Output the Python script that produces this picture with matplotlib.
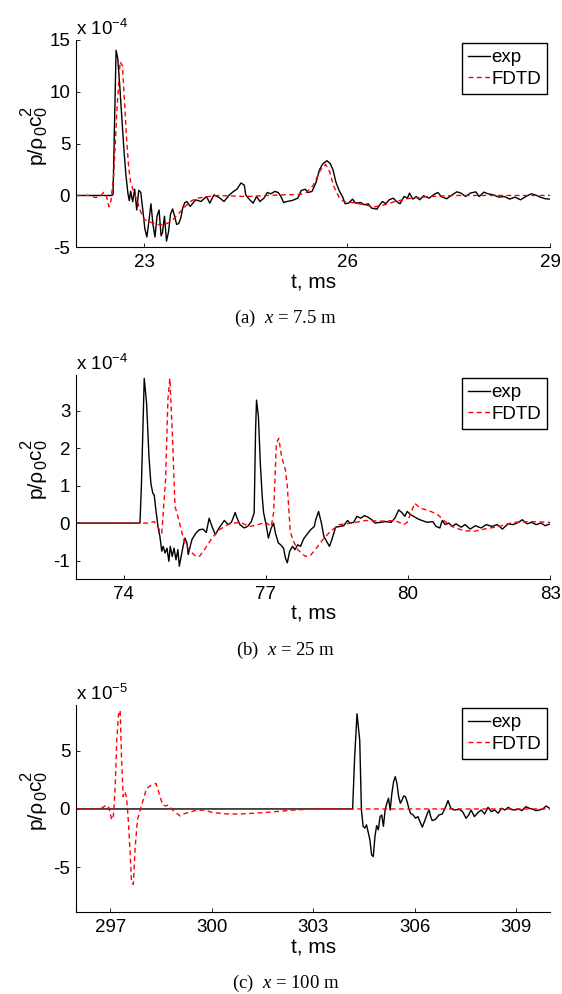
import matplotlib
matplotlib.use("Agg")
import matplotlib.pyplot as plt
from matplotlib.transforms import IdentityTransform

plt.rcParams['font.family'] = ['Liberation Sans', 'DejaVu Sans']
plt.rcParams['mathtext.fontset'] = 'custom'
plt.rcParams['mathtext.rm'] = 'Liberation Serif'
plt.rcParams['mathtext.it'] = 'Liberation Serif:italic'
plt.rcParams['axes.unicode_minus'] = False

# ---------------- data (a) x = 7.5 m, units 1e-4 ----------------
a_exp_t = [22.00, 22.52, 22.54, 22.565, 22.585, 22.61, 22.64, 22.67, 22.70, 22.73, 22.76, 22.78, 22.80, 22.83,
           22.86, 22.89, 22.92, 22.95, 22.98, 23.01, 23.04, 23.07, 23.10, 23.13, 23.16, 23.19, 23.22, 23.25,
           23.27, 23.30, 23.33, 23.36, 23.39, 23.42, 23.45, 23.48, 23.51, 23.54, 23.57, 23.60, 23.63, 23.68,
           23.76, 23.84, 23.92, 23.97, 24.03, 24.10, 24.18, 24.26, 24.32, 24.37, 24.43, 24.48, 24.50, 24.56,
           24.61, 24.66, 24.71, 24.77, 24.82, 24.87, 24.93, 24.98, 25.02, 25.06, 25.11, 25.19, 25.27, 25.32,
           25.38, 25.42, 25.48, 25.54, 25.59, 25.64, 25.70, 25.75, 25.79, 25.83, 25.88, 25.93, 25.97, 26.02,
           26.08, 26.12, 26.20, 26.25, 26.31, 26.36, 26.44, 26.48, 26.52, 26.57, 26.62, 26.68, 26.73, 26.78,
           26.84, 26.89, 26.92, 26.97, 27.02, 27.07, 27.13, 27.21, 27.29, 27.34, 27.39, 27.47, 27.55, 27.62,
           27.68, 27.75, 27.82, 27.90, 27.95, 28.02, 28.08, 28.16, 28.24, 28.32, 28.40, 28.48, 28.56, 28.64,
           28.72, 28.78, 28.85, 28.93, 29.00]
a_exp_v = [0.0, 0.0, 0.1, 8.0, 14.0, 13.2, 10.5, 7.5, 4.5, 2.0, 0.2, -0.5, 0.4, -0.6,
           0.6, -1.4, 0.5, 0.3, -1.4, -3.2, -4.0, -2.5, -0.8, -2.8, -4.0, -2.0, -1.4, -3.9,
           -3.6, -2.0, -4.4, -3.5, -1.8, -1.3, -2.0, -2.8, -2.7, -2.2, -1.2, -0.7, -0.58, -1.06,
           -0.42, -0.58, -0.1, -0.74, 0.06, -0.16, -0.58, 0.06, 0.39, 0.6, 1.2, 1.0, 0.06, -0.42,
           -0.74, -0.1, -0.58, -0.26, 0.29, 0.16, 0.39, 0.29, -0.1, -0.68, -0.58, -0.48, -0.26, 0.48,
           0.6, 0.29, 0.39, 1.26, 2.48, 3.06, 3.35, 3.06, 2.48, 1.35, 0.48, -0.1, -0.8, -0.74,
           -0.35, -0.74, -0.68, -0.9, -0.8, -1.22, -1.32, -0.9, -0.58, -0.8, -0.42, -0.26, -0.58, -0.8,
           -0.1, -0.26, 0.23, -0.35, -0.1, -0.42, -0.03, -0.26, 0.13, 0.29, -0.1, -0.32, 0.06, 0.35,
           0.23, -0.1, 0.23, 0.35, -0.1, 0.32, 0.16, 0.06, -0.16, -0.1, -0.35, -0.16, -0.42, -0.1,
           0.16, 0.06, -0.16, -0.32, -0.35]
a_fdtd_t = [22.00, 22.20, 22.28, 22.35, 22.40, 22.44, 22.48, 22.51, 22.55, 22.60, 22.645, 22.68, 22.71, 22.74,
            22.77, 22.80, 22.85, 22.90, 22.95, 23.00, 23.10, 23.20, 23.30, 23.40, 23.50, 23.60, 23.70, 23.80,
            23.95, 24.10, 24.50, 25.00, 25.30, 25.40, 25.50, 25.60, 25.68, 25.74, 25.80, 25.88, 25.95, 26.10,
            26.25, 26.40, 26.55, 26.70, 26.90, 27.20, 27.60, 29.00]
a_fdtd_v = [0.0, 0.0, -0.2, -0.1, 0.3, 0.0, -1.1, -0.5, 2.0, 8.5, 12.9, 12.5, 9.0, 5.5,
            2.8, 1.2, 0.3, -0.6, -1.6, -2.3, -2.6, -2.8, -2.8, -2.5, -1.8, -1.1, -0.5, -0.25,
            -0.1, 0.0, -0.1, 0.05, 0.1, 0.3, 1.0, 2.4, 3.0, 2.3, 0.9, -0.2, -0.6, -0.7,
            -0.9, -1.1, -0.9, -0.6, -0.3, -0.1, 0.0, 0.0]

# ---------------- data (b) x = 25 m, units 1e-4 ----------------
b_exp_t = [73.00, 74.34, 74.37, 74.43, 74.48, 74.53, 74.57, 74.61, 74.64, 74.68, 74.72, 74.76, 74.80, 74.83,
           74.87, 74.91, 74.95, 74.98, 75.02, 75.06, 75.10, 75.14, 75.17, 75.21, 75.25, 75.29, 75.33, 75.36,
           75.40, 75.44, 75.52, 75.59, 75.67, 75.74, 75.80, 75.86, 75.93, 76.01, 76.12, 76.20, 76.27, 76.35,
           76.39, 76.45, 76.54, 76.61, 76.69, 76.75, 76.78, 76.80, 76.84, 76.88, 76.92, 76.95, 77.01, 77.05,
           77.11, 77.16, 77.20, 77.26, 77.31, 77.37, 77.41, 77.45, 77.50, 77.56, 77.61, 77.67, 77.73, 77.79,
           77.86, 77.94, 78.02, 78.05, 78.11, 78.17, 78.22, 78.28, 78.34, 78.39, 78.47, 78.55, 78.64, 78.72,
           78.77, 78.85, 78.92, 79.00, 79.08, 79.15, 79.23, 79.30, 79.42, 79.53, 79.64, 79.72, 79.80, 79.87,
           79.93, 79.98, 80.06, 80.14, 80.21, 80.29, 80.40, 80.52, 80.59, 80.67, 80.72, 80.78, 80.86, 80.93,
           81.01, 81.12, 81.20, 81.31, 81.42, 81.54, 81.65, 81.77, 81.88, 81.99, 82.11, 82.22, 82.33, 82.41,
           82.51, 82.60, 82.70, 82.81, 82.89, 83.00]
b_exp_v = [0.0, 0.0, 1.0, 3.86, 3.19, 1.77, 1.06, 0.8, 0.75, 0.31, -0.09, -0.35, -0.75, -0.62,
           -0.8, -0.67, -1.02, -0.62, -0.89, -0.67, -0.98, -0.71, -1.15, -0.89, -0.62, -0.4, -0.53, -0.84,
           -0.62, -0.43, -0.27, -0.18, -0.16, -0.25, 0.13, -0.09, -0.31, -0.13, 0.07, -0.04, 0.02, 0.28,
           0.13, -0.04, -0.13, -0.09, 0.04, 0.27, 2.48, 3.28, 2.84, 1.6, 0.71, 0.27, -0.09, -0.4,
           -0.13, 0.0, -0.27, -0.53, -0.58, -0.67, -0.93, -1.06, -0.75, -0.62, -0.71, -0.58, -0.62, -0.43,
           -0.31, -0.18, -0.09, 0.09, 0.31, 0.0, -0.35, -0.49, -0.62, -0.44, -0.11, -0.09, -0.07, 0.07,
           0.0, 0.02, 0.18, 0.13, 0.2, 0.16, 0.09, 0.0, 0.02, 0.04, 0.02, 0.13, 0.35, 0.28,
           0.18, 0.31, 0.22, 0.16, 0.11, 0.07, 0.02, 0.04, -0.09, -0.13, 0.07, -0.04, 0.0, -0.09,
           -0.02, -0.11, -0.04, -0.16, -0.07, -0.13, -0.04, -0.09, -0.04, -0.16, -0.02, -0.04, 0.02, 0.09,
           -0.02, 0.02, -0.04, 0.0, -0.07, -0.02]
b_fdtd_t = [73.00, 74.53, 74.64, 74.80, 74.88, 74.93, 74.97, 75.02, 75.08, 75.14, 75.21, 75.29, 75.40, 75.52,
            75.60, 75.70, 75.86, 76.01, 76.23, 76.46, 76.65, 76.84, 76.99, 77.11, 77.16, 77.22, 77.27, 77.33,
            77.41, 77.45, 77.51, 77.56, 77.67, 77.83, 77.94, 78.05, 78.20, 78.36, 78.55, 78.81, 79.11, 79.42,
            79.72, 79.91, 79.98, 80.06, 80.14, 80.25, 80.36, 80.48, 80.63, 80.78, 80.93, 81.16, 81.39, 81.61,
            81.92, 82.22, 82.60, 83.00]
b_fdtd_v = [0.0, 0.0, 0.04, -0.27, 1.15, 3.3, 3.86, 2.48, 0.44, 0.18, -0.18, -0.55, -0.75, -0.89,
            -0.88, -0.71, -0.4, -0.18, -0.02, 0.02, -0.09, -0.04, 0.02, -0.09, 0.27, 2.13, 2.26, 1.77,
            1.42, 0.98, -0.18, -0.44, -0.71, -0.89, -0.86, -0.69, -0.44, -0.22, -0.04, 0.0, 0.07, 0.05,
            0.07, -0.04, 0.02, 0.28, 0.53, 0.4, 0.36, 0.31, 0.22, 0.04, -0.09, -0.2, -0.22, -0.16,
            -0.09, 0.02, 0.04, 0.02]

# ---------------- data (c) x = 100 m, units 1e-5 ----------------
c_exp_t = [296.00, 304.16, 304.22, 304.29, 304.37, 304.42, 304.47, 304.52, 304.57, 304.62, 304.67, 304.72,
           304.77, 304.82, 304.87, 304.92, 304.97, 305.02, 305.07, 305.12, 305.17, 305.22, 305.27, 305.32,
           305.37, 305.42, 305.47, 305.52, 305.57, 305.62, 305.67, 305.72, 305.77, 305.82, 305.87, 305.95,
           306.02, 306.09, 306.17, 306.22, 306.30, 306.37, 306.42, 306.46, 306.51, 306.61, 306.71, 306.81,
           306.91, 306.98, 307.06, 307.16, 307.31, 307.41, 307.51, 307.59, 307.66, 307.76, 307.86, 307.96,
           308.06, 308.16, 308.26, 308.36, 308.46, 308.56, 308.66, 308.76, 308.86, 308.96, 309.06, 309.16,
           309.28, 309.38, 309.48, 309.58, 309.68, 309.78, 309.88, 310.00]
c_exp_v = [0.0, 0.0, 4.5, 8.2, 5.9, -0.1, -1.5, -1.65, -1.37, -2.0, -2.66, -3.95,
           -4.1, -2.37, -1.43, -1.8, -0.66, -0.52, -1.5, -0.09, 0.49, 0.92, -0.09, 1.35,
           2.35, 2.78, 2.2, 1.06, 0.49, 0.77, 1.12, 1.06, 0.63, 0.06, -0.37, -0.52,
           -0.8, -0.66, -1.23, -1.57, -0.95, -0.37, -0.09, -0.6, -1.0, -0.89, -0.52, -0.43,
           0.2, 0.72, 0.06, -0.09, -0.03, -0.23, -0.8, -0.52, -0.09, -0.66, -0.32, -0.09,
           -0.43, 0.14, -0.23, -0.09, -0.37, 0.06, -0.09, 0.14, -0.06, -0.09, 0.0, -0.14,
           0.2, 0.06, -0.03, -0.14, -0.09, 0.0, 0.26, 0.0]
c_fdtd_t = [296.00, 296.70, 296.89, 296.96, 297.04, 297.09, 297.14, 297.19, 297.24, 297.29, 297.33, 297.38,
            297.43, 297.48, 297.53, 297.58, 297.63, 297.68, 297.73, 297.80, 297.88, 297.97, 298.07, 298.22,
            298.35, 298.47, 298.55, 298.64, 298.71, 298.84, 298.96, 299.06, 299.16, 299.30, 299.50, 299.75,
            300.04, 300.44, 300.83, 301.20, 301.60, 302.00, 302.40, 302.80, 303.20, 310.00]
c_fdtd_v = [0.0, 0.0, 0.34, 0.1, -0.94, -0.6, 1.63, 5.9, 8.07, 8.5, 4.5, 1.06,
            1.49, 1.0, -0.94, -3.5, -6.38, -6.5, -3.5, -0.94, -0.09, 0.77, 1.77, 2.06,
            2.2, 1.06, 0.34, 0.26, 0.34, -0.09, -0.37, -0.6, -0.43, -0.31, -0.14, -0.09,
            -0.31, -0.43, -0.43, -0.38, -0.3, -0.2, -0.1, -0.03, 0.0, 0.0]

panels = [
    dict(et=a_exp_t, ev=a_exp_v, ft=a_fdtd_t, fv=a_fdtd_v, xlim=(22, 29), ylim=(-5, 15),
         xticks=[23, 26, 29], yticks=[-5, 0, 5, 10, 15], exp=-4,
         caption=r'(a)  $x$ = 7.5 m', rect=(0.1361, 0.7512, 0.843, 0.2086), cap_y=0.6798),
    dict(et=b_exp_t, ev=b_exp_v, ft=b_fdtd_t, fv=b_fdtd_v, xlim=(73, 83), ylim=(-1.5, 3.95),
         xticks=[74, 77, 80, 83], yticks=[-1, 0, 1, 2, 3], exp=-4,
         caption=r'(b)  $x$ = 25 m', rect=(0.1361, 0.4172, 0.843, 0.2055), cap_y=0.3454),
    dict(et=c_exp_t, ev=c_exp_v, ft=c_fdtd_t, fv=c_fdtd_v, xlim=(296, 310), ylim=(-8.9, 8.95),
         xticks=[297, 300, 303, 306, 309], yticks=[-5, 0, 5], exp=-5,
         caption=r'(c)  $x$ = 100 m', rect=(0.1361, 0.0822, 0.843, 0.2085), cap_y=0.0107),
]

DPI = 100
fig = plt.figure(figsize=(5.62, 9.94), dpi=DPI)
FS = 13.5
LFS = 15
axes = []
for p in panels:
    ax = fig.add_axes(p['rect'])
    axes.append(ax)
    ax.plot(p['et'], p['ev'], color='black', lw=1.0, label='exp')
    ax.plot(p['ft'], p['fv'], color='red', lw=1.0, ls=(0, (3.5, 2.5)), label='FDTD')
    ax.set_xlim(*p['xlim'])
    ax.set_ylim(*p['ylim'])
    ax.set_xticks(p['xticks'])
    ax.set_yticks(p['yticks'])
    ax.spines['top'].set_visible(False)
    ax.spines['right'].set_visible(False)
    for s in ('left', 'bottom'):
        ax.spines[s].set_linewidth(0.8)
    ax.tick_params(direction='in', length=3, width=0.6, labelsize=FS, pad=4.5)
    ax.set_xlabel('t, ms', fontsize=LFS)
    ax.xaxis.set_label_coords(0.5, -0.125)
    ax.text(0.0, 1.005, r'x $\mathregular{10^{%d}}$' % p['exp'], transform=ax.transAxes,
            fontsize=FS, ha='left', va='bottom')
    leg = ax.legend(loc='upper right', fontsize=FS, fancybox=False, framealpha=1,
                    edgecolor='black', handlelength=1.15, handletextpad=0.1,
                    borderaxespad=0.18, borderpad=0.3, labelspacing=0.25)
    leg.get_frame().set_linewidth(1.0)
    fig.text(0.508, p['cap_y'], p['caption'], family='Liberation Serif', fontsize=13.5,
             ha='center', va='center')

# y-axis label p/rho_0 c_0^2 built from pieces (rotated, reading upward)
renderer = fig.canvas.get_renderer()
px = LFS * DPI / 72.0
SUB = 0.78
pieces = [('p/ρ', LFS, 0.0, True), ('0', LFS * SUB, 0.22 * px, True), ('c', LFS, 0.0, True),
          ('0', LFS * SUB, 0.22 * px, False), ('2', LFS * SUB, -0.48 * px, True)]
for ax in axes:
    bb = ax.get_position()
    xb = 41.5
    yc = (bb.y0 + bb.y1) / 2 * fig.bbox.height + 8
    texts = []
    for s, f, dx, adv in pieces:
        t = fig.text(0, 0, s, fontsize=f, rotation=90, rotation_mode='anchor',
                     ha='left', va='baseline', transform=IdentityTransform())
        texts.append((t, dx, adv))
    lens = [t.get_window_extent(renderer).height for t, _, _ in texts]
    total = 0.0
    prev_len = 0.0
    for (t, dx, adv), L in zip(texts, lens):
        if adv:
            total += max(L, prev_len) if prev_len else L
            prev_len = 0.0
        else:
            prev_len = L
    y = yc - total / 2
    pending = 0.0
    for (t, dx, adv), L in zip(texts, lens):
        t.set_position((xb + dx, y))
        if adv:
            y += max(L, pending)
            pending = 0.0
        else:
            pending = L

fig.savefig('out.png', dpi=DPI)
